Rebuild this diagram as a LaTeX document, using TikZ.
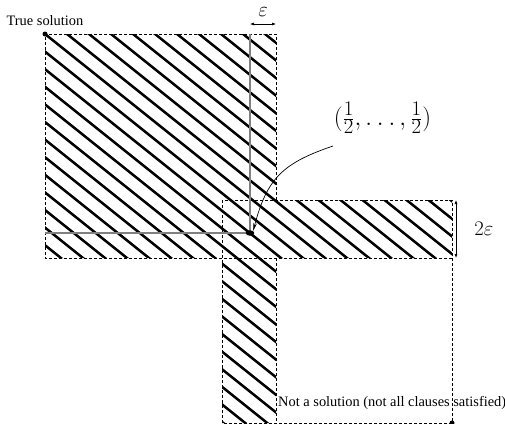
\documentclass[tikz,border=0pt]{standalone}
\usepackage[no-math]{fontspec}
\setmainfont{Liberation Serif}
\usepackage{tikz}
\usetikzlibrary{
    arrows.meta,
    positioning,
    shapes.geometric
}
\newcommand{\spreaddots}{\mathinner{.\mkern3.5mu.\mkern3.5mu.}}
\tikzset{
    outline/.style={
        line width=0.8pt,
        dash pattern=on 3pt off 2pt
    },
    hatchline/.style={
        line width=2.5pt
    },
    guide/.style={
        draw=gray,
        line width=1.5pt
    },
    dot/.style={
        circle,
        fill=black,
        inner sep=0pt,
        minimum size=5pt
    },
    blob/.style={
        ellipse,
        fill=black,
        inner sep=0pt,
        minimum width=8.5pt,
        minimum height=5.5pt
    },
    tag/.style={
        inner sep=1pt,
        font=\fontsize{14.4}{17}\selectfont
    },
    mathtag/.style={
        inner sep=1pt,
        font=\fontsize{20.74}{25}\selectfont
    },
    bigmathtag/.style={
        inner sep=1pt,
        font=\fontsize{24.88}{30}\selectfont
    },
    dimarrow/.style={
        {Latex[length=4pt,width=3pt]}-{Latex[length=4pt,width=3pt]},
        line width=0.6pt
    },
    pointer/.style={
        -{Stealth[length=8pt,width=3.5pt]},
        line width=0.7pt
    }
}

\begin{document}
\begin{tikzpicture}[x=1pt, y=-1pt]
\useasboundingbox (0,0) rectangle (505,423);

% hatched area
\begin{scope}
\clip (45,34) rectangle (276,258)
      (222,200) rectangle (452,258)
      (222,200) rectangle (276,423);
\foreach \k in {-24,...,20}
    \draw[hatchline] ({45+22*\k-150},{34-120}) -- ({45+22*\k+650},{34+520});
\end{scope}

% dashed borders
\draw[outline] (276,200) -- (276,34) -- (45,34) -- (45,258) -- (452,258);
\draw[outline] (222,200) rectangle (452,423);
\draw[outline] (276,258) -- (276,423);

% gray guides to the centre point
\coordinate (centre) at (250,233);
\coordinate (guideleft) at (45,233);
\coordinate (guidetop) at (250,34);
\draw[guide] (guideleft) -- (centre) -- (guidetop);

\node[blob] (half) at (centre) {};
\node[dot] (truesol) at (45,34) {};
\node[dot] (notsol) at (452,423) {};

\node[tag, above=4pt of truesol] (truelabel) {True solution};
\node[tag, anchor=base west] (notlabel) at (277,406)
    {Not a solution (not all clauses satisfied)};

\node[bigmathtag] (halflabel) at (382.5,118)
    {$(\frac{1}{2},\spreaddots,\frac{1}{2})$};

% epsilon widths
\coordinate (epsleft) at (250,24);
\coordinate (epsright) at (276,24);
\draw[dimarrow] (epsleft) -- (epsright)
    node[mathtag, midway, above=6.5pt] (epslabel) {$\varepsilon$};

\coordinate (bandtop) at (456,200);
\coordinate (bandbottom) at (456,258);
\draw[dimarrow] (bandtop) -- (bandbottom)
    node[mathtag, midway, right=17pt] (bandlabel) {$2\varepsilon$};

% pointer to (1/2,...,1/2)
\coordinate (tail) at (333,146);
\draw[pointer] (tail) .. controls (283,163) and (267,178) .. (half.north east);
\end{tikzpicture}
\end{document}
